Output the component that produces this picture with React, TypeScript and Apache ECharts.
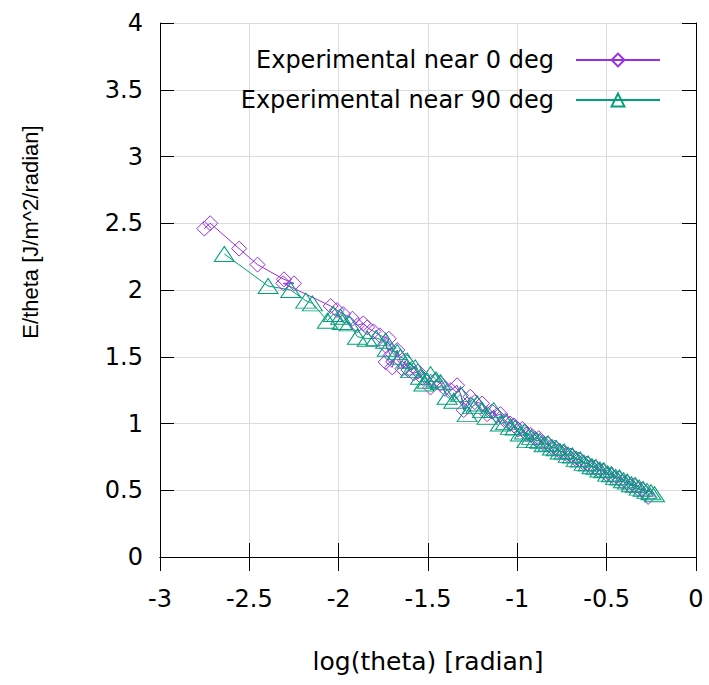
import React, { useEffect, useRef } from "react";
import * as echarts from "echarts";

const PURPLE = "#9a2ee0";
const GREEN = "#00a07a";

const xTicks = { min: -3, max: 0, interval: 0.5 };
const yTicks = { min: 0, max: 4, interval: 0.5 };

const seriesNames = ["Experimental near 0 deg", "Experimental near 90 deg"];

const near0: [number, number][] = [
  [-2.752, 2.46], [-2.719, 2.5], [-2.557, 2.31], [-2.454, 2.19], [-2.306, 2.08], [-2.25, 2.05],
  [-2.31, 2.05], [-2.045, 1.88], [-2.01, 1.85], [-1.975, 1.82], [-1.923, 1.785], [-1.895, 1.735],
  [-1.862, 1.75], [-1.84, 1.72], [-1.805, 1.69], [-1.77, 1.66], [-1.719, 1.635], [-1.735, 1.58],
  [-1.71, 1.51], [-1.737, 1.46], [-1.7, 1.42], [-1.672, 1.55], [-1.644, 1.41], [-1.628, 1.47],
  [-1.609, 1.4], [-1.58, 1.375], [-1.556, 1.39], [-1.53, 1.34], [-1.486, 1.27], [-1.462, 1.32],
  [-1.43, 1.3], [-1.405, 1.26], [-1.372, 1.25], [-1.337, 1.286], [-1.315, 1.21], [-1.3, 1.1],
  [-1.263, 1.2], [-1.238, 1.16], [-1.197, 1.15], [-1.169, 1.07], [-1.142, 1.09], [-1.115, 1.06],
  [-1.095, 1.07], [-1.068, 1.02], [-1.04, 1.0], [-1.018, 0.985], [-0.995, 0.955], [-0.972, 0.96],
  [-0.948, 0.92], [-0.925, 0.915], [-0.9, 0.885], [-0.88, 0.89], [-0.856, 0.855], [-0.832, 0.85],
  [-0.81, 0.825], [-0.788, 0.82], [-0.766, 0.795], [-0.745, 0.785], [-0.722, 0.77], [-0.7, 0.76],
  [-0.678, 0.74], [-0.655, 0.73], [-0.634, 0.71], [-0.61, 0.7], [-0.588, 0.68], [-0.566, 0.67],
  [-0.545, 0.65], [-0.522, 0.645], [-0.5, 0.62], [-0.478, 0.615], [-0.456, 0.595], [-0.434, 0.59],
  [-0.412, 0.565], [-0.39, 0.56], [-0.368, 0.535], [-0.346, 0.535], [-0.324, 0.51], [-0.302, 0.505],
  [-0.28, 0.48], [-0.268, 0.45],
];

const near90: [number, number][] = [
  [-2.64, 2.27], [-2.395, 2.03], [-2.268, 2.0], [-2.184, 1.92], [-2.147, 1.9], [-2.063, 1.77],
  [-2.03, 1.82], [-1.989, 1.8], [-1.98, 1.76], [-1.94, 1.75], [-1.895, 1.65], [-1.84, 1.635],
  [-1.79, 1.64], [-1.737, 1.62], [-1.728, 1.56], [-1.672, 1.535], [-1.654, 1.5], [-1.616, 1.47],
  [-1.598, 1.4], [-1.571, 1.42], [-1.542, 1.35], [-1.523, 1.3], [-1.504, 1.32], [-1.486, 1.37],
  [-1.455, 1.33], [-1.43, 1.31], [-1.393, 1.2], [-1.356, 1.17], [-1.318, 1.22], [-1.281, 1.07],
  [-1.25, 1.13], [-1.225, 1.15], [-1.195, 1.1], [-1.169, 1.05], [-1.132, 1.1], [-1.095, 1.0],
  [-1.065, 1.01], [-1.039, 0.975], [-1.012, 0.97], [-0.983, 0.925], [-0.96, 0.94], [-0.946, 0.875],
  [-0.92, 0.9], [-0.897, 0.875], [-0.874, 0.87], [-0.85, 0.845], [-0.828, 0.85], [-0.804, 0.82],
  [-0.782, 0.815], [-0.76, 0.79], [-0.738, 0.79], [-0.715, 0.765], [-0.692, 0.76], [-0.67, 0.735],
  [-0.648, 0.73], [-0.626, 0.705], [-0.604, 0.7], [-0.582, 0.68], [-0.56, 0.675], [-0.538, 0.655],
  [-0.516, 0.65], [-0.494, 0.625], [-0.472, 0.62], [-0.45, 0.6], [-0.428, 0.595], [-0.406, 0.575],
  [-0.384, 0.565], [-0.362, 0.545], [-0.34, 0.54], [-0.318, 0.52], [-0.296, 0.51], [-0.274, 0.495],
  [-0.252, 0.485], [-0.232, 0.47],
];

const FONT = "DejaVu Sans";

export default function App() {
  const ref = useRef<HTMLDivElement>(null);
  useEffect(() => {
    if (!ref.current) return;
    const chart = echarts.init(ref.current, undefined, { renderer: "svg" });
    const frameAxis = {
      axisLine: { show: true, lineStyle: { color: "#000", width: 1 } },
      axisTick: { show: true, inside: true, length: 14, lineStyle: { color: "#000", width: 1 } },
      splitLine: { show: false },
      axisLabel: { show: false },
    };
    chart.setOption({
      animation: false,
      backgroundColor: "#fff",
      grid: { left: 160, top: 23, right: 13, bottom: 128, containLabel: false },
      xAxis: [
        {
          type: "value",
          ...xTicks,
          position: "bottom",
          axisLine: { show: true, onZero: false, lineStyle: { color: "#000", width: 1 } },
          axisTick: { show: true, inside: true, length: 14, lineStyle: { color: "#000", width: 1 } },
          splitLine: { show: true, lineStyle: { color: "#dcdcdc", width: 1 } },
          axisLabel: { fontFamily: FONT, fontSize: 24, color: "#000", margin: 30 },
          name: "log(theta) [radian]",
          nameLocation: "middle",
          nameGap: 92,
          nameTextStyle: { fontFamily: FONT, fontSize: 25, color: "#000" },
        },
        { type: "value", ...xTicks, position: "top", ...frameAxis },
      ],
      yAxis: [
        {
          type: "value",
          ...yTicks,
          position: "left",
          axisLine: { show: true, onZero: false, lineStyle: { color: "#000", width: 1 } },
          axisTick: { show: true, inside: true, length: 14, lineStyle: { color: "#000", width: 1 } },
          splitLine: { show: true, lineStyle: { color: "#dcdcdc", width: 1 } },
          axisLabel: { fontFamily: FONT, fontSize: 24, color: "#000", margin: 17 },
        },
        { type: "value", ...yTicks, position: "right", ...frameAxis },
      ],
      legend: {
        orient: "vertical",
        right: 48,
        top: 48,
        padding: 0,
        align: "right",
        itemWidth: 84,
        itemHeight: 16,
        itemGap: 16,
        textStyle: { fontFamily: FONT, fontSize: 24, lineHeight: 24, color: "#000", padding: [0, 17, 0, 0] },
        data: seriesNames,
      },
      graphic: [
        {
          type: "text",
          x: 30,
          y: 232,
          rotation: Math.PI / 2,
          style: {
            text: "E/theta [J/m^2/radian]",
            fontFamily: "Liberation Sans",
            fontSize: 22,
            fill: "#000",
            textAlign: "center",
            textVerticalAlign: "middle",
          },
        },
      ],
      series: [
        {
          type: "line",
          name: seriesNames[0],
          data: near0,
          symbol: "diamond",
          symbolSize: [15, 15],
          showAllSymbol: true,
          itemStyle: { color: "rgba(255,255,255,0)", borderColor: PURPLE, borderWidth: 1 },
          lineStyle: { color: PURPLE, width: 1 },
          emphasis: { disabled: true },
        },
        {
          type: "line",
          name: seriesNames[1],
          data: near90,
          symbol: "triangle",
          symbolSize: [20, 15],
          showAllSymbol: true,
          itemStyle: { color: "rgba(255,255,255,0)", borderColor: GREEN, borderWidth: 1 },
          lineStyle: { color: GREEN, width: 1 },
          emphasis: { disabled: true },
        },
      ],
    });
    return () => chart.dispose();
  }, []);
  return <div ref={ref} style={{ width: 709, height: 685, position: "absolute", left: 0, top: 0 }} />;
}
